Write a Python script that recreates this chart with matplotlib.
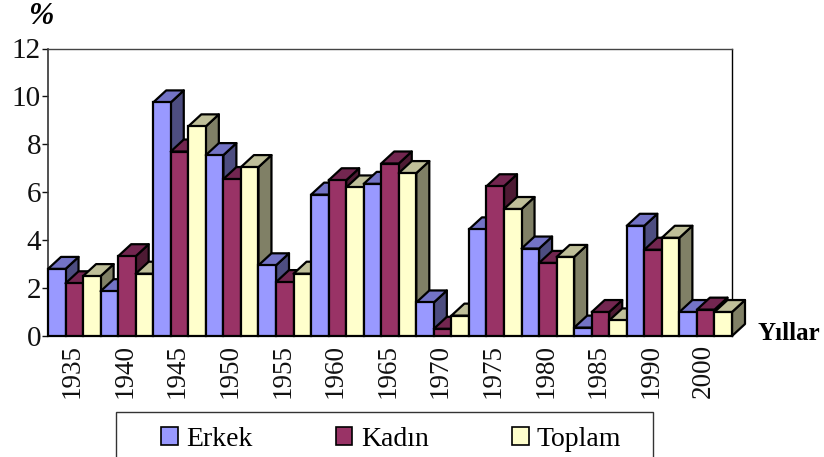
import matplotlib
matplotlib.use('Agg')
import matplotlib.pyplot as plt
from matplotlib.patches import Polygon, Patch, Rectangle

plt.rcParams['font.family'] = ['Liberation Serif', 'DejaVu Serif']

years = ['1935', '1940', '1945', '1950', '1955', '1960', '1965',
         '1970', '1975', '1980', '1985', '1990', '2000']
erkek = [2.8, 1.87, 9.75, 7.55, 2.95, 5.9, 6.35, 1.4, 4.45, 3.65, 0.35, 4.6, 1.0]
kadin = [2.2, 3.33, 7.7, 6.55, 2.25, 6.5, 7.2, 0.3, 6.25, 3.05, 1.0, 3.6, 1.1]
toplam = [2.5, 2.6, 8.75, 7.05, 2.6, 6.2, 6.8, 0.85, 5.3, 3.3, 0.65, 4.1, 1.0]

series = [('Erkek', erkek, '#9999FF', '#7373C6', '#4D4D80'),
          ('Kadın', kadin, '#993366', '#732650', '#4D1A33'),
          ('Toplam', toplam, '#FFFFCC', '#BFBF99', '#808066')]

W, H = 824, 457
fig = plt.figure(figsize=(W / 100, H / 100), dpi=100)
ax = fig.add_axes([48 / W, 1 - 336 / H, 684 / W, 287.5 / H])

# fake 3d depth, in data units (about 13 px right, 12 px up)
bar_w = 1 / 3
dx = 13 / (684 / 13)
dy = 12 / (287.5 / 12)
lw = 1.6

z = 3
for i in range(len(years)):
    for j, (name, vals, front, top, side) in enumerate(series):
        x0 = i + j * bar_w
        x1 = x0 + bar_w
        v = vals[i]
        ax.add_patch(Polygon([(x1, 0), (x1 + dx, dy), (x1 + dx, v + dy), (x1, v)],
                             facecolor=side, edgecolor='black', lw=lw, zorder=z,
                             clip_on=False, joinstyle='round'))
        ax.add_patch(Polygon([(x0, v), (x0 + dx, v + dy), (x1 + dx, v + dy), (x1, v)],
                             facecolor=top, edgecolor='black', lw=lw, zorder=z,
                             clip_on=False, joinstyle='round'))
        ax.bar(x0, v, width=bar_w, align='edge', color=front, edgecolor='black',
               linewidth=lw, zorder=z, clip_on=False)
        z += 1

ax.set_xlim(0, 13)
ax.set_ylim(0, 12)
ax.set_yticks(range(0, 13, 2))
ax.set_xticks([i + 0.46 for i in range(len(years))])
ax.set_xticklabels(years, rotation=90)
ax.tick_params(axis='x', length=0, pad=6, labelsize=19.5, colors='#111111')
ax.tick_params(axis='y', length=4, width=1, pad=1, labelsize=21, colors='#111111')
ax.spines['bottom'].set_linewidth(1.4)
ax.spines['left'].set_color('#333333')
ax.spines['left'].set_linewidth(1.2)
ax.spines['top'].set_color('#444444')
ax.spines['top'].set_linewidth(1)
ax.spines['right'].set_linewidth(1)

fig.text(41 / W, 1 - 16 / H, '%', fontsize=22, fontweight='bold', style='italic',
         ha='center', va='center')
fig.text(757 / W, 1 - 333 / H, 'Yıllar', fontsize=18, fontweight='bold',
         ha='left', va='center')

# legend box runs off the bottom of the picture
fig.add_artist(Rectangle((116 / W, 1 - 475 / H), 537 / W, 63 / H, transform=fig.transFigure,
                         facecolor='white', edgecolor='#333333', lw=1))
handles = [Patch(facecolor=s[2], edgecolor='black', lw=1.2, label=s[0]) for s in series]
leg = fig.legend(handles=handles, ncol=3, loc='upper left',
                 bbox_to_anchor=(161 / W, 1 - 427 / H), bbox_transform=fig.transFigure,
                 borderaxespad=0, frameon=False, fontsize=20,
                 handlelength=0.6, handleheight=0.6, handletextpad=0.3,
                 columnspacing=3.0, borderpad=0)
leg.set_zorder(5)

fig.savefig('out.png', dpi=100)
